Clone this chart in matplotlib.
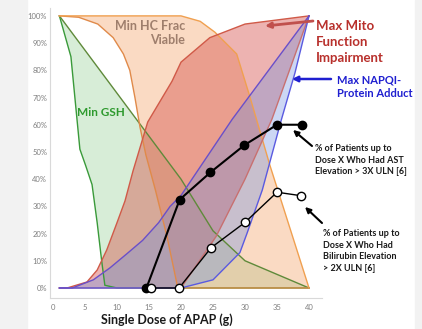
import matplotlib
matplotlib.use("Agg")
import matplotlib.pyplot as plt
from matplotlib.patches import Rectangle

plt.rcParams['font.family'] = ['Lato', 'DejaVu Sans']

# Min GSH band
gsh_lo_x = [1, 2.8, 4.2, 5.1, 6.1, 6.9, 7.6, 8.1, 10, 40]
gsh_lo_y = [100, 85, 51, 45, 38, 24, 10, 1, 0, 0]
gsh_hi_x = [1, 20, 25, 30, 40]
gsh_hi_y = [100, 40, 21, 10, 0]

# Min HC fraction viable band
hc_hi_x = [1, 20, 23, 25.3, 28.7, 30.8, 33.9, 40]
hc_hi_y = [100, 100, 98, 94, 86, 70, 45, 0]
hc_lo_x = [1, 4, 7, 9.4, 11, 12, 12.8, 13.6, 14.5, 16, 17.8, 19.5, 40]
hc_lo_y = [100, 99.5, 97, 92, 86, 80, 70, 59, 49, 36, 19, 0, 0]

# Max mito function impairment band
mito_hi_x = [1, 2.2, 5.3, 6.9, 8.4, 10, 11.25, 12.5, 14.8, 18.6, 20, 24.5, 30, 40]
mito_hi_y = [0, 0, 2.2, 6.6, 14, 24, 32, 43, 61, 76, 83, 92, 97, 100]
mito_lo_x = [1, 20, 25.5, 30, 34.2, 40]
mito_lo_y = [0, 0, 19, 40, 62, 100]

# Max NAPQI-protein adduct band
napqi_hi_x = [1, 3, 6.3, 8.9, 11.5, 14, 16.5, 18.3, 20, 28, 40]
napqi_hi_y = [0, 0, 3, 7.4, 12.5, 17.5, 24, 30, 34, 62, 100]
napqi_lo_x = [1, 20, 25, 29.2, 30.3, 32.7, 35.7, 37.8, 40]
napqi_lo_y = [0, 0, 3, 13, 20, 36, 62, 79, 100]

# clinical data
ast_x = [14.6, 19.8, 24.6, 29.9, 35, 38.9]
ast_y = [0, 32.5, 42.5, 52.5, 60, 60]
bili_x = [15.3, 19.7, 24.7, 30, 35, 38.8]
bili_y = [0, 0, 14.8, 24.1, 35.2, 33.9]

x_ticks = [0, 5, 10, 15, 20, 25, 30, 35, 40]
y_ticks = [0, 10, 20, 30, 40, 50, 60, 70, 80, 90, 100]

W, H = 422, 329


def px(x, y):
    return (x / W, 1 - y / H)


def band(ax, lo_x, lo_y, hi_x, hi_y, fill, edge_lo, edge_hi, alpha):
    xs = list(lo_x) + list(hi_x)[::-1]
    ys = list(lo_y) + list(hi_y)[::-1]
    ax.fill(xs, ys, color=fill, alpha=alpha, lw=0)
    ax.plot(lo_x, lo_y, color=edge_lo, lw=1)
    ax.plot(hi_x, hi_y, color=edge_hi, lw=1)


fig = plt.figure(figsize=(W / 100, H / 100), dpi=100)
ax = fig.add_axes([50 / W, 31 / H, 272 / W, 290 / H])

band(ax, gsh_lo_x, gsh_lo_y, gsh_hi_x, gsh_hi_y, '#7cc47c', '#3a9a3a', '#5f8a3a', 0.3)
band(ax, hc_lo_x, hc_lo_y, hc_hi_x, hc_hi_y, '#f4a46a', '#e08a4a', '#f0a050', 0.4)
band(ax, mito_lo_x, mito_lo_y, mito_hi_x, mito_hi_y, '#d64b45', '#c87070', '#d05a48', 0.42)
band(ax, napqi_lo_x, napqi_lo_y, napqi_hi_x, napqi_hi_y, '#6d8fe0', '#5a5ae0', '#6a4fc9', 0.35)

ax.plot(ast_x, ast_y, color='black', lw=1.5, marker='o', ms=6,
        mfc='black', mec='black', zorder=5)
ax.plot(bili_x, bili_y, color='black', lw=1, marker='o', ms=6,
        mfc='white', mec='black', mew=1, zorder=6)

ax.set_xlim(-0.47, 42.03)
ax.set_ylim(-3.68, 102.9)
ax.set_xticks(x_ticks)
ax.set_yticks(y_ticks)
ax.set_yticklabels([f'{v}%' for v in y_ticks])
ax.tick_params(length=0, labelsize=5.5, labelcolor='#7f7f7f')
ax.tick_params(axis='x', pad=4)
ax.tick_params(axis='y', pad=2)
for s in ['top', 'right']:
    ax.spines[s].set_visible(False)
for s in ['left', 'bottom']:
    ax.spines[s].set_color('#d9d9d9')
    ax.spines[s].set_linewidth(0.8)

fig.text(*px(167, 320), 'Single Dose of APAP (g)', ha='center', va='center',
         fontsize=9, fontweight='bold', color='#1a1a1a')

fig.text(*px(185, 33), 'Min HC Frac\nViable', ha='right', va='center',
         fontsize=9, fontweight='bold', color='#9e7e6c', linespacing=1.25)
fig.text(*px(77, 113), 'Min GSH', ha='left', va='center',
         fontsize=8.5, fontweight='bold', color='#2e9a2e')
fig.text(*px(316, 42), 'Max Mito\nFunction\nImpairment', ha='left', va='center',
         fontsize=9.5, fontweight='bold', color='#b8302c', linespacing=1.35)
fig.text(*px(337, 87), 'Max NAPQI-\nProtein Adduct', ha='left', va='center',
         fontsize=8, fontweight='bold', color='#1f1fd0', linespacing=1.3)
fig.text(*px(315, 160), '% of Patients up to\nDose X Who Had AST\nElevation > 3X ULN [6]',
         ha='left', va='center', fontsize=6.5, fontweight='bold', color='#1a1a1a',
         linespacing=1.35)
fig.text(*px(323, 251), '% of Patients up to\nDose X Who Had\nBilirubin Elevation\n> 2X ULN [6]',
         ha='left', va='center', fontsize=6.5, fontweight='bold', color='#1a1a1a',
         linespacing=1.35)

arrows = [
    (px(313, 21), px(265, 26), '#c0504d', 2),
    (px(331, 79), px(292, 79), '#1f1fd0', 1.8),
    (px(312, 146), px(293, 130), 'black', 1.5),
    (px(322, 223), px(305, 207), 'black', 1.5),
]
for start, tip, col, lw in arrows:
    ax.annotate('', xy=tip, xycoords='figure fraction', xytext=start,
                textcoords='figure fraction',
                arrowprops=dict(arrowstyle='-|>', color=col, lw=lw,
                                mutation_scale=8, shrinkA=0, shrinkB=0))

fig.add_artist(Rectangle((0, 0), 27 / W, 1, transform=fig.transFigure,
                         color='#f2f2f2', zorder=10))
fig.add_artist(Rectangle((415 / W, 0), 7 / W, 1, transform=fig.transFigure,
                         color='#f2f2f2', zorder=10))

fig.savefig('out.png', dpi=100)
